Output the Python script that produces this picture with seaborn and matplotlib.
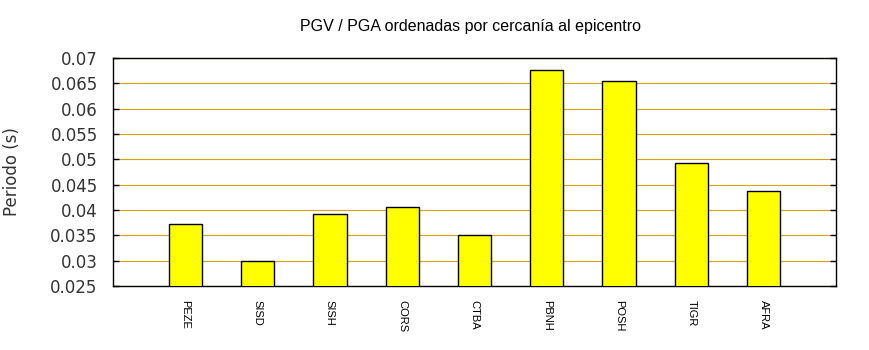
import matplotlib
matplotlib.use("Agg")
import matplotlib.pyplot as plt
import seaborn as sns
import pandas as pd

# Stations ordered by distance to the epicentre and their PGV/PGA period
stations = ["PEZE", "SISD", "SISH", "CORS", "CTBA", "PBNH", "POSH", "TIGR", "AFRA"]
periods = [0.0372, 0.0299, 0.0392, 0.0405, 0.0350, 0.0676, 0.0654, 0.0492, 0.0437]
yticks = [0.025, 0.03, 0.035, 0.04, 0.045, 0.05, 0.055, 0.06, 0.065, 0.07]

sns.set_style("white")
plt.rcParams["font.family"] = ["DejaVu Sans"]

df = pd.DataFrame({"station": stations, "period": periods})

fig = plt.figure(figsize=(8.7, 3.5), dpi=100)
ax = fig.add_axes([113 / 870, 64 / 350, 723 / 870, 228 / 350])

sns.barplot(data=df, x="station", y="period", ax=ax, color="#ffff00",
            saturation=1, width=0.46, edgecolor="black", linewidth=1.0,
            zorder=3)

ax.set_xlim(-1, 9)
ax.set_ylim(0.025, 0.07)
ax.set_yticks(yticks)
ax.set_yticklabels([f"{v:g}" for v in yticks])
ax.yaxis.grid(True, color="#d9a010", linewidth=0.8, zorder=0)
ax.set_axisbelow(True)

for s in ax.spines.values():
    s.set_visible(True)
    s.set_color("black")
    s.set_linewidth(1.0)

ax.tick_params(axis="y", direction="in", length=4, width=1, color="black",
               left=True, right=True, labelsize=12, pad=11, labelcolor="#333333")
ax.tick_params(axis="x", length=0, pad=10, labelcolor="black")
ax.set_xticks(range(len(stations)))
ax.set_xticklabels(stations, rotation=-90, fontsize=8,
                   family=["Liberation Sans"], va="top", ha="center")

ax.set_xlabel("")
ax.set_ylabel("")
fig.text(12 / 870, 1 - 172 / 350, "Periodo (s)", rotation=90, va="center",
         ha="center", fontsize=12, color="#333333")
fig.text(471 / 870, 1 - 27 / 350, "PGV / PGA ordenadas por cercanía al epicentro",
         ha="center", va="center", fontsize=11.5, color="black",
         family=["Liberation Sans"])

fig.savefig("out.png", dpi=100)
